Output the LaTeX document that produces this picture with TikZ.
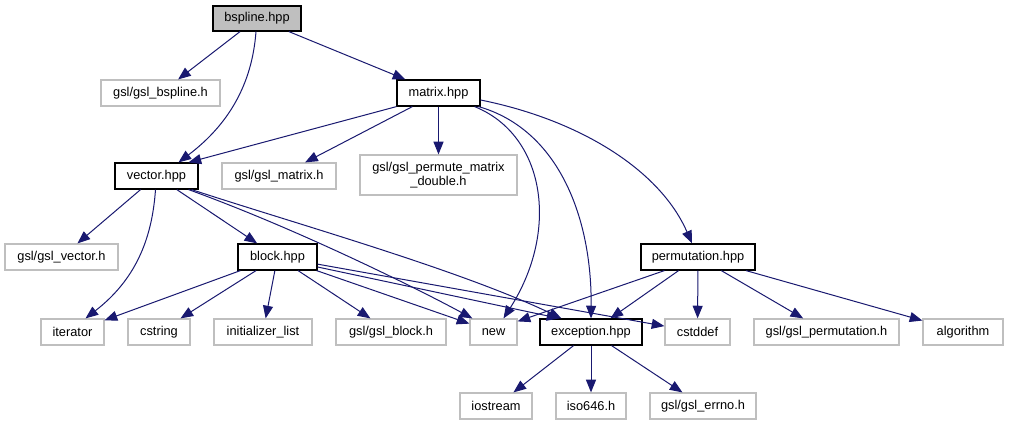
\documentclass[tikz,border=0pt]{standalone}
\usepackage{fontspec}
\setmainfont{Liberation Sans}
\usetikzlibrary{arrows.meta,calc}
\definecolor{edgeblue}{HTML}{191970}
\definecolor{extgray}{HTML}{BFBFBF}
\tikzset{
  box/.style 2 args={draw=black, line width=0.9pt, inner sep=0pt, minimum width=#1*0.75pt, minimum height=#2*0.75pt, font=\fontsize{9.6}{11}\selectfont, align=center},
  ext/.style 2 args={draw=extgray, line width=0.9pt, inner sep=0pt, minimum width=#1*0.75pt, minimum height=#2*0.75pt, font=\fontsize{9.6}{11}\selectfont, align=center},
  e/.style={draw=edgeblue, line width=0.75pt, -{Triangle[length=9.5pt,width=7.5pt]}}
}
\begin{document}
\begin{tikzpicture}[x=0.75pt,y=-0.75pt]
\useasboundingbox (0,0) rectangle (1009,425);
\fill[white] (0,0) rectangle (1009,425);
% nodes
\node[box={88}{25}, fill=extgray] (bspline) at (257,18.5) {bspline.hpp};
\node[ext={119}{26}] (gslbspline) at (160.5,93) {gsl/gsl\_bspline.h};
\node[box={83}{26}] (matrix) at (438.5,93) {matrix.hpp};
\node[box={83}{26}] (vector) at (156.5,176) {vector.hpp};
\node[ext={114}{26}] (gslmatrix) at (279,176) {gsl/gsl\_matrix.h};
\node[ext={157}{40}] (permute) at (438.5,175) {gsl/gsl\_permute\_matrix\\\_double.h};
\node[ext={113}{26}] (gslvector) at (61.5,257) {gsl/gsl\_vector.h};
\node[box={79}{26}] (block) at (277.5,257) {block.hpp};
\node[box={114}{26}] (permutation) at (698,257) {permutation.hpp};
\node[ext={63}{26}] (iterator) at (72.5,332) {iterator};
\node[ext={62}{26}] (cstring) at (159,332) {cstring};
\node[ext={98}{26}] (initlist) at (263,332) {initializer\_list};
\node[ext={110}{26}] (gslblock) at (391,332) {gsl/gsl\_block.h};
\node[ext={47}{26}] (new) at (493.5,332) {new};
\node[box={102}{26}] (exception) at (591,332) {exception.hpp};
\node[ext={65}{26}] (cstddef) at (697.5,332) {cstddef};
\node[ext={145}{26}] (gslperm) at (826.5,332) {gsl/gsl\_permutation.h};
\node[ext={80}{26}] (algorithm) at (963,332) {algorithm};
\node[ext={72}{26}] (iostream) at (496,406) {iostream};
\node[ext={70}{26}] (iso646) at (591,406) {iso646.h};
\node[ext={106}{26}] (errno) at (703,406) {gsl/gsl\_errno.h};
% edges from bspline
\draw[e] (bspline) -- (gslbspline);
\draw[e] (bspline) -- (matrix);
\draw[e] ($(bspline.south)+(-1,0)$) .. controls (252,85) and (228,125) .. ($(vector.north)+(22,0)$);
% edges from matrix
\draw[e] (matrix.south west) -- ($(vector.north)+(32,0)$);
\draw[e] (matrix) -- (gslmatrix);
\draw[e] (matrix) -- (permute);
\draw[e] ($(matrix.south east)+(-6,0)$) .. controls (545,135) and (560,230) .. ($(new.north)+(10,0)$);
\draw[e] ($(matrix.south east)+(-2,0)$) .. controls (560,130) and (592,220) .. (exception.north);
\draw[e] ($(matrix.east)+(0,7)$) .. controls (580,120) and (660,170) .. ($(permutation.north)+(-6,0)$);
% edges from vector
\draw[e] (vector) -- (gslvector);
\draw[e] (vector) -- (block);
\draw[e] ($(vector.south)+(-1,0)$) .. controls (152,240) and (135,280) .. ($(iterator.north)+(13,0)$);
\draw[e] ($(vector.south east)+(-10,0)$) .. controls (300,230) and (420,290) .. ($(new.north west)+(3,0)$);
\draw[e] ($(vector.south east)+(-7,0)$) .. controls (300,225) and (460,270) .. ($(exception.north west)+(22,0)$);
% edges from block
\draw[e] (block) -- (iterator);
\draw[e] (block) -- (cstring);
\draw[e] (block) -- (initlist);
\draw[e] (block) -- (gslblock);
\draw[e] (block) -- (new);
\draw[e] ($(block.east)+(0,10)$) -- ($(exception.north west)+(20,0)$);
\draw[e] (block) -- (cstddef);
% edges from permutation
\draw[e] ($(permutation.south west)+(24,0)$) -- ($(new.north east)+(0,3)$);
\draw[e] (permutation) -- (exception);
\draw[e] (permutation) -- (cstddef);
\draw[e] (permutation) -- (gslperm);
\draw[e] (permutation) -- (algorithm);
% edges from exception
\draw[e] (exception) -- (iostream);
\draw[e] (exception) -- (iso646);
\draw[e] (exception) -- (errno);
\end{tikzpicture}
\end{document}
